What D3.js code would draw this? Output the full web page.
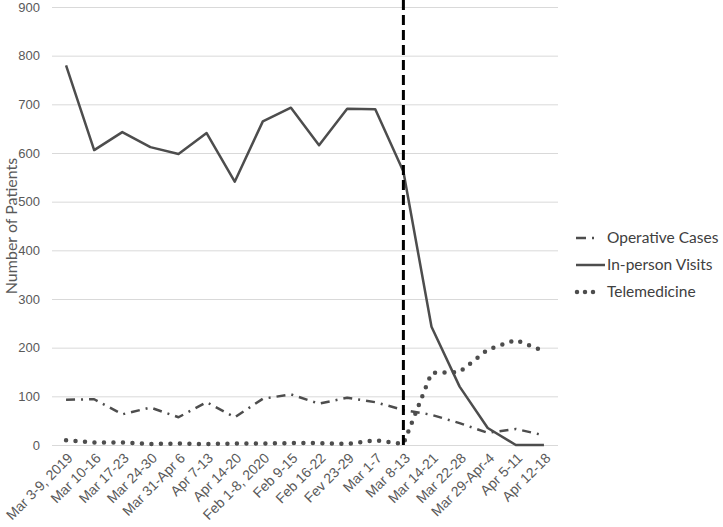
<!DOCTYPE html>
<meta charset="utf-8">
<title>Patients per week</title>
<style>
body { margin: 0; background: #fff; }
svg { font-family: Lato, "Open Sans", sans-serif; }
.grid line { stroke: #d9d9d9; stroke-width: 1; }
.tick text { fill: #595959; font-size: 13px; }
.xlab .tick text { font-size: 14px; }
.legend text { fill: #404040; font-size: 15.5px; }
</style>
<body>
<script src="https://d3js.org/d3.v7.min.js"></script>
<script>
var weeks = ["Mar 3-9, 2019", "Mar 10-16", "Mar 17-23", "Mar 24-30", "Mar 31-Apr 6",
  "Apr 7-13", "Apr 14-20", "Feb 1-8, 2020", "Feb 9-15", "Feb 16-22", "Fev 23-29",
  "Mar 1-7", "Mar 8-13", "Mar 14-21", "Mar 22-28", "Mar 29-Apr-4", "Apr 5-11", "Apr 12-18"];
var operative = [93, 94, 63, 77, 57, 88, 57, 95, 104, 85, 97, 88, 72, 62, 45, 25, 33, 20];
var inPerson = [780, 606, 643, 612, 598, 641, 541, 665, 693, 616, 691, 690, 562, 243, 120, 35, 0, 0];
var telemedicine = [10, 5, 5, 2, 3, 2, 3, 3, 4, 4, 2, 10, 2, 148, 150, 196, 216, 193];
var yTicks = [0, 100, 200, 300, 400, 500, 600, 700, 800, 900];
var markerWeek = "Mar 8-13";

var width = 723, height = 527;
var plotLeft = 52, plotRight = 558, plotTop = 7, plotBottom = 445;

var svg = d3.select("body").append("svg")
    .attr("width", width)
    .attr("height", height);

var x = d3.scalePoint().domain(weeks).range([plotLeft, plotRight]).padding(0.5);
var y = d3.scaleLinear().domain([0, 900]).range([plotBottom, plotTop]);

// gridlines + y labels
var yAxis = svg.append("g")
    .attr("class", "grid")
    .attr("transform", "translate(" + plotLeft + ",0)")
    .call(d3.axisLeft(y).tickValues(yTicks).tickSize(-(plotRight - plotLeft)).tickPadding(12));
yAxis.select(".domain").remove();

// x labels, rotated
var xAxis = svg.append("g")
    .attr("class", "xlab")
    .attr("transform", "translate(0," + plotBottom + ")")
    .call(d3.axisBottom(x).tickSize(0).tickPadding(0));
xAxis.select(".domain").remove();
xAxis.selectAll("text")
    .attr("y", 0)
    .attr("dy", 0)
    .attr("text-anchor", "end")
    .attr("transform", "translate(7,14) rotate(-45)");

svg.append("text")
    .attr("transform", "translate(17," + ((plotTop + plotBottom) / 2) + ") rotate(-90)")
    .attr("text-anchor", "middle")
    .attr("fill", "#595959")
    .style("font-size", "16px")
    .text("Number of Patients");

var series = [
  {name: "Operative Cases", values: operative, dash: "9,6,2,6", width: 2.5, cap: "butt",
   key: [576, 597], keyDash: "10,6,2,6"},
  {name: "In-person Visits", values: inPerson, dash: null, width: 2.5, cap: "butt",
   key: [576, 605], keyDash: null},
  {name: "Telemedicine", values: telemedicine, dash: "0,9.5", width: 4.5, cap: "round",
   key: [577, 594], keyDash: "0,8"}
];

var line = d3.line()
    .x(function(d, i) { return x(weeks[i]); })
    .y(function(d) { return y(d); });

series.forEach(function(s) {
  svg.append("path")
      .attr("d", line(s.values))
      .attr("fill", "none")
      .attr("stroke", "#4d4d4d")
      .attr("stroke-width", s.width)
      .attr("stroke-linecap", s.cap)
      .attr("stroke-linejoin", "round")
      .attr("stroke-dasharray", s.dash);
});

// vertical marker
svg.append("line")
    .attr("x1", x(markerWeek)).attr("x2", x(markerWeek))
    .attr("y1", 0).attr("y2", plotBottom)
    .attr("stroke", "#000")
    .attr("stroke-width", 3)
    .attr("stroke-dasharray", "10,5");

// legend
var legend = svg.append("g").attr("class", "legend");
series.forEach(function(s, i) {
  var ly = 238 + i * 27;
  legend.append("line")
      .attr("x1", s.key[0]).attr("x2", s.key[1])
      .attr("y1", ly).attr("y2", ly)
      .attr("stroke", "#4d4d4d")
      .attr("stroke-width", s.width)
      .attr("stroke-linecap", s.cap)
      .attr("stroke-dasharray", s.keyDash);
  legend.append("text")
      .attr("x", 607).attr("y", ly)
      .attr("dy", "0.35em")
      .text(s.name);
});
</script>
</body>
